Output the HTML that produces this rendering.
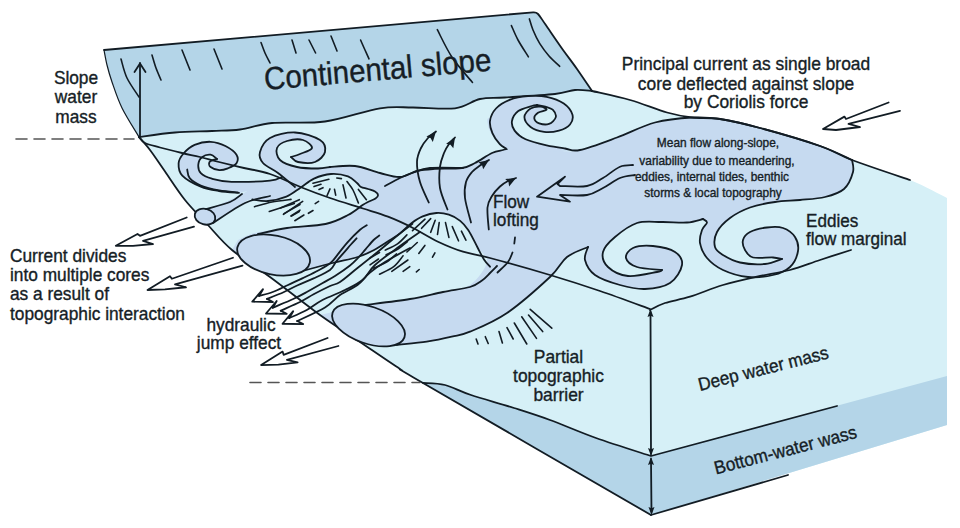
<!DOCTYPE html>
<html><head><meta charset="utf-8"><style>
html,body{margin:0;padding:0;background:#fff;width:960px;height:528px;overflow:hidden}
svg{display:block}
text{font-family:"Liberation Sans",sans-serif;fill:#161e26;stroke:#161e26;stroke-width:0.35px}
</style></head><body>
<svg width="960" height="528" viewBox="0 0 960 528">
<rect width="960" height="528" fill="#fff"/>
<defs><clipPath id="blk"><path d="M139.0,137.0 C145.0,136.2 162.8,133.5 175.0,132.5 C187.2,131.5 201.2,131.5 212.0,131.0 C222.8,130.5 230.0,130.8 240.0,129.5 C250.0,128.2 257.8,124.3 272.0,123.0 C286.2,121.7 307.0,124.0 325.0,121.5 C343.0,119.0 365.3,110.6 380.0,108.3 C394.7,106.0 400.5,107.5 413.0,107.5 C425.5,107.5 443.8,109.7 455.0,108.3 C466.2,106.9 471.7,100.8 480.0,99.0 C488.3,97.2 492.5,98.3 505.0,97.5 C517.5,96.7 543.3,95.2 555.0,94.0 C566.7,92.8 568.8,90.5 575.0,90.0 C581.2,89.5 589.2,90.8 592.0,91.0 C598.3,92.5 617.5,96.4 630.0,100.0 C642.5,103.6 656.7,109.6 667.0,112.5 C677.3,115.4 683.2,116.4 692.0,117.5 C700.8,118.6 708.7,117.2 720.0,119.0 C731.3,120.8 743.3,123.5 760.0,128.0 C776.7,132.5 804.7,140.7 820.0,146.0 C835.3,151.3 837.0,154.3 852.0,160.0 C867.0,165.7 894.2,173.7 910.0,180.0 C925.8,186.3 940.8,195.0 947.0,198.0 L947.0,425.0 L651.0,515.0 C613.0,493.0 464.8,407.3 423.0,383.0 C381.2,358.7 410.5,375.8 400.0,369.0 C389.5,362.2 373.3,351.0 360.0,342.0 C346.7,333.0 335.0,325.8 320.0,315.0 C305.0,304.2 284.7,287.8 270.0,277.0 C255.3,266.2 242.5,258.8 232.0,250.0 C221.5,241.2 214.8,232.3 207.0,224.0 C199.2,215.7 192.2,209.0 185.0,200.0 C177.8,191.0 169.8,178.3 164.0,170.0 C158.2,161.7 154.2,155.5 150.0,150.0 C145.8,144.5 140.8,139.2 139.0,137.0 Z"/></clipPath></defs>
<path d="M139.0,137.0 C145.0,136.2 162.8,133.5 175.0,132.5 C187.2,131.5 201.2,131.5 212.0,131.0 C222.8,130.5 230.0,130.8 240.0,129.5 C250.0,128.2 257.8,124.3 272.0,123.0 C286.2,121.7 307.0,124.0 325.0,121.5 C343.0,119.0 365.3,110.6 380.0,108.3 C394.7,106.0 400.5,107.5 413.0,107.5 C425.5,107.5 443.8,109.7 455.0,108.3 C466.2,106.9 471.7,100.8 480.0,99.0 C488.3,97.2 492.5,98.3 505.0,97.5 C517.5,96.7 543.3,95.2 555.0,94.0 C566.7,92.8 568.8,90.5 575.0,90.0 C581.2,89.5 589.2,90.8 592.0,91.0 C598.3,92.5 617.5,96.4 630.0,100.0 C642.5,103.6 656.7,109.6 667.0,112.5 C677.3,115.4 683.2,116.4 692.0,117.5 C700.8,118.6 708.7,117.2 720.0,119.0 C731.3,120.8 743.3,123.5 760.0,128.0 C776.7,132.5 804.7,140.7 820.0,146.0 C835.3,151.3 837.0,154.3 852.0,160.0 C867.0,165.7 894.2,173.7 910.0,180.0 C925.8,186.3 940.8,195.0 947.0,198.0 L947.0,425.0 L651.0,515.0 C613.0,493.0 464.8,407.3 423.0,383.0 C381.2,358.7 410.5,375.8 400.0,369.0 C389.5,362.2 373.3,351.0 360.0,342.0 C346.7,333.0 335.0,325.8 320.0,315.0 C305.0,304.2 284.7,287.8 270.0,277.0 C255.3,266.2 242.5,258.8 232.0,250.0 C221.5,241.2 214.8,232.3 207.0,224.0 C199.2,215.7 192.2,209.0 185.0,200.0 C177.8,191.0 169.8,178.3 164.0,170.0 C158.2,161.7 154.2,155.5 150.0,150.0 C145.8,144.5 140.8,139.2 139.0,137.0 Z" fill="#d6f0f7" fill-rule="nonzero"/>
<path d="M104.0,50.0 L533.0,12.3 C533.8,12.6 535.9,11.9 538.0,14.0 C540.1,16.1 541.4,18.7 545.5,24.6 C549.6,30.5 557.2,41.8 562.5,49.2 C567.8,56.6 572.1,62.0 577.0,69.0 C581.9,76.0 589.5,87.3 592.0,91.0 C589.2,90.8 581.2,89.5 575.0,90.0 C568.8,90.5 566.7,92.8 555.0,94.0 C543.3,95.2 517.5,96.7 505.0,97.5 C492.5,98.3 488.3,97.2 480.0,99.0 C471.7,100.8 466.2,106.9 455.0,108.3 C443.8,109.7 425.5,107.5 413.0,107.5 C400.5,107.5 394.7,106.0 380.0,108.3 C365.3,110.6 343.0,119.0 325.0,121.5 C307.0,124.0 286.2,121.7 272.0,123.0 C257.8,124.3 250.0,128.2 240.0,129.5 C230.0,130.8 222.8,130.5 212.0,131.0 C201.2,131.5 187.2,131.5 175.0,132.5 C162.8,133.5 145.0,136.2 139.0,137.0 C136.2,132.2 126.5,117.2 122.0,108.0 C117.5,98.8 114.5,89.2 112.0,82.0 C109.5,74.8 108.3,70.3 107.0,65.0 C105.7,59.7 104.5,52.5 104.0,50.0 Z" fill="#b4d5e8" fill-rule="nonzero"/>
<path d="M423.0,383.0 C426.7,383.3 437.0,383.0 445.0,385.0 C453.0,387.0 459.5,391.2 471.0,395.0 C482.5,398.8 500.8,403.8 514.0,408.0 C527.2,412.2 536.3,415.0 550.0,420.0 C563.7,425.0 579.2,432.0 596.0,438.0 C612.8,444.0 641.8,453.0 651.0,456.0 L947.0,376.0 L947.0,425.0 L651.0,515.0 L423.0,383.0 Z" fill="#b4d5e8" fill-rule="nonzero"/>
<g clip-path="url(#blk)">
<path d="M200.0,212.0 C203.8,210.5 216.0,206.0 223.0,203.0 C230.0,200.0 236.2,197.0 242.0,194.0 C247.8,191.0 253.3,187.2 258.0,185.0 C262.7,182.8 265.5,182.2 270.0,181.0 C274.5,179.8 280.5,179.7 285.0,178.0 C289.5,176.3 292.8,172.8 297.0,171.0 C301.2,169.2 304.5,168.2 310.0,167.5 C315.5,166.8 322.5,167.2 330.0,167.0 C337.5,166.8 346.7,165.0 355.0,166.0 C363.3,167.0 372.5,171.2 380.0,173.0 C387.5,174.8 393.8,177.3 400.0,177.0 C406.2,176.7 411.5,172.3 417.0,171.0 C422.5,169.7 425.5,169.5 433.0,169.0 C440.5,168.5 455.0,169.0 462.0,168.0 C469.0,167.0 470.0,165.5 475.0,163.0 C480.0,160.5 487.3,155.2 492.0,153.0 C496.7,150.8 500.5,150.7 503.0,150.0 C505.5,149.3 506.7,149.7 507.0,149.0 C507.3,148.3 506.5,147.2 505.0,146.0 C503.5,144.8 500.2,143.5 498.0,141.7 C495.8,139.9 493.7,137.8 492.0,135.0 C490.3,132.2 488.3,127.8 488.0,125.0 C487.7,122.2 485.8,117.5 490.0,118.0 C494.2,118.5 507.2,124.3 513.0,128.0 C518.8,131.7 520.2,136.9 525.0,140.0 C529.8,143.1 536.2,144.9 542.0,146.7 C547.8,148.5 553.7,150.2 560.0,150.8 C566.3,151.4 570.5,152.2 580.0,150.0 C589.5,147.8 604.5,142.1 617.0,137.5 C629.5,132.9 642.5,125.8 655.0,122.5 C667.5,119.2 681.2,118.1 692.0,117.5 C702.8,116.9 708.7,117.2 720.0,119.0 C731.3,120.8 743.3,123.5 760.0,128.0 C776.7,132.5 804.7,140.7 820.0,146.0 C835.3,151.3 846.7,157.7 852.0,160.0 C852.2,162.0 854.3,167.2 853.0,172.0 C851.7,176.8 848.7,184.8 844.0,189.0 C839.3,193.2 832.3,195.2 825.0,197.0 C817.7,198.8 808.3,199.2 800.0,200.0 C791.7,200.8 783.3,200.8 775.0,202.0 C766.7,203.2 757.5,204.8 750.0,207.5 C742.5,210.2 735.5,213.9 730.0,218.0 C724.5,222.1 719.5,227.2 717.0,232.0 C714.5,236.8 714.0,243.2 715.0,247.0 C716.0,250.8 718.8,252.4 723.0,255.0 C727.2,257.6 733.0,261.0 740.0,262.5 C747.0,264.0 758.0,264.6 765.0,264.0 C772.0,263.4 779.2,259.8 782.0,259.0 C780.5,258.8 777.8,257.8 773.0,257.5 C768.2,257.2 757.7,258.8 753.0,257.5 C748.3,256.2 746.7,252.9 745.0,250.0 C743.3,247.1 742.2,243.0 743.0,240.0 C743.8,237.0 746.0,234.1 750.0,232.0 C754.0,229.9 761.5,228.2 767.0,227.5 C772.5,226.8 778.3,226.4 783.0,228.0 C787.7,229.6 792.5,233.2 795.0,237.0 C797.5,240.8 798.8,246.0 798.0,251.0 C797.2,256.0 794.2,263.0 790.0,267.0 C785.8,271.0 780.0,273.3 773.0,275.0 C766.0,276.7 756.3,277.8 748.0,277.0 C739.7,276.2 729.8,273.2 723.0,270.0 C716.2,266.8 710.8,262.5 707.0,258.0 C703.2,253.5 700.8,247.7 700.0,243.0 C699.2,238.3 700.8,233.4 702.0,230.0 C703.2,226.6 706.8,224.3 707.0,222.5 C707.2,220.7 703.7,219.6 703.0,219.0 C700.3,219.6 693.8,222.0 687.0,222.5 C680.2,223.0 670.3,221.9 662.0,222.0 C653.7,222.1 644.8,220.5 637.0,223.0 C629.2,225.5 620.7,232.2 615.0,237.0 C609.3,241.8 604.2,247.0 603.0,252.0 C601.8,257.0 603.8,263.0 608.0,267.0 C612.2,271.0 619.8,275.2 628.0,276.0 C636.2,276.8 651.3,273.0 657.0,272.0 C662.7,271.0 661.2,270.3 662.0,270.0 C657.8,269.5 643.0,269.0 637.0,267.0 C631.0,265.0 626.7,261.2 626.0,258.0 C625.3,254.8 628.5,250.0 633.0,248.0 C637.5,246.0 646.0,245.3 653.0,246.0 C660.0,246.7 670.2,248.8 675.0,252.0 C679.8,255.2 682.8,259.8 682.0,265.0 C681.2,270.2 676.2,279.0 670.0,283.0 C663.8,287.0 653.3,288.7 645.0,289.0 C636.7,289.3 628.3,287.3 620.0,285.0 C611.7,282.7 600.8,279.2 595.0,275.0 C589.2,270.8 586.2,264.7 585.0,260.0 C583.8,255.3 587.5,249.2 588.0,247.0 C584.5,248.7 573.3,252.0 567.0,257.0 C560.7,262.0 560.0,267.7 550.0,277.0 C540.0,286.3 520.3,303.9 507.0,313.0 C493.7,322.1 479.2,327.8 470.0,331.7 C460.8,335.6 458.9,335.0 451.7,336.7 C444.5,338.4 435.9,340.3 426.7,341.7 C417.5,343.1 401.7,344.4 396.7,345.0 L360.0,342.0 L320.0,315.0 L270.0,277.0 L232.0,250.0 L207.0,224.0 L200.0,212.0 Z" fill="#c6daf0" fill-rule="nonzero"/>
<path d="M214.8,220.5 C218.0,218.6 228.0,212.6 234.0,209.0 C240.0,205.4 245.3,200.3 251.0,199.0 C256.7,197.7 262.1,201.4 268.0,201.0 C273.9,200.6 281.0,198.8 286.4,196.6 C291.8,194.4 295.9,190.7 300.5,187.7 C305.1,184.7 308.9,180.9 314.0,178.6 C319.1,176.3 325.3,174.4 331.0,174.0 C336.7,173.6 343.7,174.9 348.0,176.4 C352.3,177.9 354.8,181.2 357.0,183.0 C359.2,184.8 359.2,186.0 361.0,187.0 C362.8,188.0 365.7,188.2 368.0,189.0 C370.3,189.8 373.3,190.5 375.0,191.5 C376.7,192.5 377.9,193.8 378.0,195.0 C378.1,196.2 377.0,197.4 375.5,198.5 C374.0,199.6 371.1,200.4 369.0,201.5 C366.9,202.6 366.5,202.6 363.0,204.8 C359.5,207.1 354.2,211.8 348.0,215.0 C341.8,218.2 335.7,221.8 325.5,224.0 C315.3,226.2 298.8,226.5 287.0,228.0 C275.2,229.5 263.2,231.0 255.0,233.0 C246.8,235.0 240.8,238.8 238.0,240.0 L232.0,250.0 L207.0,224.0 L213.0,223.0 Z" fill="#d6f0f7" fill-rule="nonzero"/>
<path d="M240.0,268.0 C245.8,269.1 265.0,273.7 275.0,274.4 C285.0,275.1 290.4,273.9 300.0,272.0 C309.6,270.1 323.1,265.5 332.7,263.0 C342.3,260.5 350.9,259.1 357.7,257.0 C364.5,254.9 368.2,253.0 373.6,250.2 C379.0,247.4 385.6,242.8 390.0,240.0 C394.4,237.2 396.4,236.2 400.0,233.4 C403.6,230.6 407.6,226.0 411.4,223.2 C415.2,220.4 418.5,218.1 422.7,216.4 C426.9,214.7 432.0,213.3 436.4,213.0 C440.8,212.7 444.9,213.4 448.9,214.7 C452.9,216.0 457.0,218.3 460.2,220.9 C463.4,223.5 465.3,225.7 468.2,230.0 C471.1,234.3 474.2,241.7 477.3,247.0 C480.4,252.3 488.2,255.7 487.0,262.0 C485.8,268.3 477.3,280.1 470.0,285.0 C462.7,289.9 453.0,289.4 443.0,291.7 C433.0,294.0 423.0,296.8 410.0,299.0 C397.0,301.2 377.8,302.8 365.0,305.0 C352.2,307.2 338.3,310.8 333.0,312.0 L320.0,315.0 L270.0,277.0 L240.0,268.0 Z" fill="#d6f0f7" fill-rule="nonzero"/>
</g>
<path d="M295.0,187.0 C292.2,184.7 283.3,177.0 278.0,173.0 C272.7,169.0 266.0,166.5 263.0,163.0 C260.0,159.5 258.8,156.2 260.0,152.0 C261.2,147.8 264.2,141.2 270.0,138.0 C275.8,134.8 286.7,132.2 295.0,132.5 C303.3,132.8 315.0,136.8 320.0,140.0 C325.0,143.2 325.8,148.3 325.0,152.0 C324.2,155.7 319.5,160.3 315.0,162.0 C310.5,163.7 302.0,162.8 298.0,162.0 C294.0,161.2 292.2,157.8 291.0,157.0 C292.5,156.5 296.5,155.5 300.0,154.0 C303.5,152.5 311.5,150.3 312.0,148.0 C312.5,145.7 307.2,141.2 303.0,140.0 C298.8,138.8 291.3,139.7 287.0,141.0 C282.7,142.3 278.2,144.8 277.0,148.0 C275.8,151.2 276.7,156.8 280.0,160.0 C283.3,163.2 290.7,165.6 297.0,167.0 C303.3,168.4 312.5,168.5 318.0,168.5 C323.5,168.5 328.0,167.2 330.0,167.0 L310.0,178.0 L295.0,187.0 Z" fill="#c6daf0" fill-rule="nonzero"/>
<path d="M295.0,187.0 C292.2,184.7 283.3,177.0 278.0,173.0 C272.7,169.0 266.0,166.5 263.0,163.0 C260.0,159.5 258.8,156.2 260.0,152.0 C261.2,147.8 264.2,141.2 270.0,138.0 C275.8,134.8 286.7,132.2 295.0,132.5 C303.3,132.8 315.0,136.8 320.0,140.0 C325.0,143.2 325.8,148.3 325.0,152.0 C324.2,155.7 319.5,160.3 315.0,162.0 C310.5,163.7 302.0,162.8 298.0,162.0 C294.0,161.2 292.2,157.8 291.0,157.0" fill="none" stroke="#121c24" stroke-width="1.8" stroke-linecap="round" stroke-linejoin="round"/>
<path d="M291.0,157.0 C292.5,156.5 296.5,155.5 300.0,154.0 C303.5,152.5 311.5,150.3 312.0,148.0 C312.5,145.7 307.2,141.2 303.0,140.0 C298.8,138.8 291.3,139.7 287.0,141.0 C282.7,142.3 278.2,144.8 277.0,148.0 C275.8,151.2 276.7,156.8 280.0,160.0 C283.3,163.2 290.7,165.6 297.0,167.0 C303.3,168.4 312.5,168.5 318.0,168.5 C323.5,168.5 328.0,167.2 330.0,167.0" fill="none" stroke="#121c24" stroke-width="1.8" stroke-linecap="round" stroke-linejoin="round"/>
<path d="M239.0,192.9 C235.7,192.6 225.4,192.0 219.0,191.0 C212.6,190.0 206.9,189.3 200.8,186.7 C194.7,184.1 186.0,179.5 182.3,175.6 C178.6,171.7 178.4,167.0 178.6,163.3 C178.8,159.6 180.8,156.6 183.5,153.5 C186.2,150.4 190.1,146.8 194.6,144.9 C199.1,143.0 205.5,141.6 210.6,141.8 C215.7,142.0 221.1,143.8 225.4,146.0 C229.7,148.2 234.7,151.8 236.5,154.7 C238.3,157.6 237.9,161.0 236.5,163.3 C235.1,165.6 230.8,167.2 227.9,168.3 C225.0,169.4 222.2,170.3 219.3,170.1 C216.4,169.9 212.2,168.3 210.6,167.0 C208.9,165.7 208.8,163.3 209.4,162.1 C210.0,160.9 213.0,160.1 214.3,159.6 C215.6,159.1 216.6,159.1 217.0,159.0 C215.9,158.3 213.1,155.0 210.6,154.7 C208.1,154.4 204.1,155.5 202.0,157.2 C199.9,158.8 198.5,161.9 198.3,164.6 C198.1,167.3 198.5,170.8 200.8,173.2 C203.1,175.5 206.8,177.3 211.9,178.7 C217.0,180.1 221.9,181.5 231.6,181.8 C241.3,182.1 261.6,181.4 270.0,180.6 C278.4,179.8 280.0,177.6 282.0,177.0 L260.0,188.0 L239.0,192.9 Z" fill="#c6daf0" fill-rule="nonzero"/>
<path d="M239.0,192.9 C235.7,192.6 225.4,192.0 219.0,191.0 C212.6,190.0 206.9,189.3 200.8,186.7 C194.7,184.1 186.0,179.5 182.3,175.6 C178.6,171.7 178.4,167.0 178.6,163.3 C178.8,159.6 180.8,156.6 183.5,153.5 C186.2,150.4 190.1,146.8 194.6,144.9 C199.1,143.0 205.5,141.6 210.6,141.8 C215.7,142.0 221.1,143.8 225.4,146.0 C229.7,148.2 234.7,151.8 236.5,154.7 C238.3,157.6 237.9,161.0 236.5,163.3 C235.1,165.6 230.8,167.2 227.9,168.3 C225.0,169.4 222.2,170.3 219.3,170.1 C216.4,169.9 212.2,168.3 210.6,167.0 C208.9,165.7 208.8,163.3 209.4,162.1 C210.0,160.9 213.0,160.1 214.3,159.6 C215.6,159.1 216.6,159.1 217.0,159.0" fill="none" stroke="#121c24" stroke-width="1.8" stroke-linecap="round" stroke-linejoin="round"/>
<path d="M217.0,159.0 C215.9,158.3 213.1,155.0 210.6,154.7 C208.1,154.4 204.1,155.5 202.0,157.2 C199.9,158.8 198.5,161.9 198.3,164.6 C198.1,167.3 198.5,170.8 200.8,173.2 C203.1,175.5 206.8,177.3 211.9,178.7 C217.0,180.1 221.9,181.5 231.6,181.8 C241.3,182.1 261.6,181.4 270.0,180.6 C278.4,179.8 280.0,177.6 282.0,177.0" fill="none" stroke="#121c24" stroke-width="1.8" stroke-linecap="round" stroke-linejoin="round"/>
<path d="M187.2,169.5 C187.6,170.9 187.4,175.4 189.7,178.1 C192.0,180.8 195.9,183.4 200.8,185.5 C205.7,187.6 213.2,189.3 219.3,190.4 C225.5,191.5 234.6,192.0 237.7,192.3" fill="none" stroke="#121c24" stroke-width="1.8" stroke-linecap="round" stroke-linejoin="round"/>
<path d="M139.0,137.0 C140.8,139.2 145.8,144.5 150.0,150.0 C154.2,155.5 158.2,161.7 164.0,170.0 C169.8,178.3 177.8,191.0 185.0,200.0 C192.2,209.0 199.2,215.7 207.0,224.0 C214.8,232.3 221.5,241.2 232.0,250.0 C242.5,258.8 255.3,266.2 270.0,277.0 C284.7,287.8 305.0,304.2 320.0,315.0 C335.0,325.8 346.7,333.0 360.0,342.0 C373.3,351.0 389.5,362.2 400.0,369.0 C410.5,375.8 381.2,358.7 423.0,383.0 C464.8,407.3 613.0,493.0 651.0,515.0" fill="none" stroke="#121c24" stroke-width="1.8" stroke-linecap="round" stroke-linejoin="round"/>
<path d="M139.0,137.0 C145.0,136.2 162.8,133.5 175.0,132.5 C187.2,131.5 201.2,131.5 212.0,131.0 C222.8,130.5 230.0,130.8 240.0,129.5 C250.0,128.2 257.8,124.3 272.0,123.0 C286.2,121.7 307.0,124.0 325.0,121.5 C343.0,119.0 365.3,110.6 380.0,108.3 C394.7,106.0 400.5,107.5 413.0,107.5 C425.5,107.5 443.8,109.7 455.0,108.3 C466.2,106.9 471.7,100.8 480.0,99.0 C488.3,97.2 492.5,98.3 505.0,97.5 C517.5,96.7 543.3,95.2 555.0,94.0 C566.7,92.8 568.8,90.5 575.0,90.0 C581.2,89.5 589.2,90.8 592.0,91.0" fill="none" stroke="#121c24" stroke-width="1.8" stroke-linecap="round" stroke-linejoin="round"/>
<path d="M592.0,91.0 C598.3,92.5 617.5,96.4 630.0,100.0 C642.5,103.6 656.7,109.6 667.0,112.5 C677.3,115.4 683.2,116.4 692.0,117.5 C700.8,118.6 708.7,117.2 720.0,119.0 C731.3,120.8 743.3,123.5 760.0,128.0 C776.7,132.5 804.7,140.7 820.0,146.0 C835.3,151.3 837.0,154.3 852.0,160.0 C867.0,165.7 900.3,176.7 910.0,180.0" fill="none" stroke="#121c24" stroke-width="1.8" stroke-linecap="round" stroke-linejoin="round"/>
<path d="M104.0,50.0 L533.0,12.3 C533.8,12.6 535.9,11.9 538.0,14.0 C540.1,16.1 541.4,18.7 545.5,24.6 C549.6,30.5 557.2,41.8 562.5,49.2 C567.8,56.6 572.1,62.0 577.0,69.0 C581.9,76.0 589.5,87.3 592.0,91.0" fill="none" stroke="#121c24" stroke-width="1.8" stroke-linecap="round" stroke-linejoin="round"/>
<path d="M423.0,383.0 C426.7,383.3 437.0,383.0 445.0,385.0 C453.0,387.0 459.5,391.2 471.0,395.0 C482.5,398.8 500.8,403.8 514.0,408.0 C527.2,412.2 536.3,415.0 550.0,420.0 C563.7,425.0 579.2,432.0 596.0,438.0 C612.8,444.0 641.8,453.0 651.0,456.0 L837,406" fill="none" stroke="#121c24" stroke-width="1.8" stroke-linecap="round" stroke-linejoin="round"/>
<path d="M651,515 L788,475" fill="none" stroke="#121c24" stroke-width="1.8" stroke-linecap="round" stroke-linejoin="round"/>
<path d="M650.0,310.0 C652.5,308.8 658.3,305.2 665.0,303.0 C671.7,300.8 680.3,299.7 690.0,296.7 C699.7,293.7 711.8,288.3 723.0,285.0 C734.2,281.7 745.8,279.2 757.0,276.7 C768.2,274.2 779.5,272.8 790.0,270.0 C800.5,267.2 809.8,263.3 820.0,260.0 C830.2,256.7 845.8,251.7 851.0,250.0" fill="none" stroke="#121c24" stroke-width="1.8" stroke-linecap="round" stroke-linejoin="round"/>
<path d="M650.5,312 L651,454" fill="none" stroke="#121c24" stroke-width="1.8" stroke-linecap="round" stroke-linejoin="round"/>
<path d="M650.5,309.0 L653.5,317.0 L650.5,315.8 L647.5,317.0 Z" fill="#121c24"/>
<path d="M651.0,456.0 L648.0,448.0 L651.0,449.2 L654.0,448.0 Z" fill="#121c24"/>
<path d="M651,459 L651.5,512" fill="none" stroke="#121c24" stroke-width="1.8" stroke-linecap="round" stroke-linejoin="round"/>
<path d="M651.0,457.0 L654.0,465.0 L651.0,463.8 L648.0,465.0 Z" fill="#121c24"/>
<path d="M651.5,515.0 L648.5,507.0 L651.5,508.2 L654.5,507.0 Z" fill="#121c24"/>
<path d="M140,137 L140,63" fill="none" stroke="#121c24" stroke-width="1.8" stroke-linecap="round" stroke-linejoin="round"/>
<path d="M134.5,72 L140,63.5 L145.5,72" fill="none" stroke="#121c24" stroke-width="1.8" stroke-linecap="round" stroke-linejoin="round"/>
<path d="M104.0,50.0 C104.5,52.5 105.7,59.7 107.0,65.0 C108.3,70.3 109.5,74.8 112.0,82.0 C114.5,89.2 117.5,98.8 122.0,108.0 C126.5,117.2 136.2,132.2 139.0,137.0" fill="none" stroke="#121c24" stroke-width="1.2" stroke-linecap="round" stroke-linejoin="round"/>
<path d="M330.0,167.0 C334.2,166.8 346.7,165.0 355.0,166.0 C363.3,167.0 372.5,171.2 380.0,173.0 C387.5,174.8 393.8,177.3 400.0,177.0 C406.2,176.7 411.5,172.3 417.0,171.0 C422.5,169.7 425.5,169.5 433.0,169.0 C440.5,168.5 455.0,169.0 462.0,168.0 C469.0,167.0 470.0,165.5 475.0,163.0 C480.0,160.5 487.3,155.2 492.0,153.0 C496.7,150.8 500.5,150.7 503.0,150.0 C505.5,149.3 506.3,149.2 507.0,149.0" fill="none" stroke="#121c24" stroke-width="1.8" stroke-linecap="round" stroke-linejoin="round"/>
<path d="M852.0,160.0 C852.2,162.0 854.3,167.2 853.0,172.0 C851.7,176.8 848.7,184.8 844.0,189.0 C839.3,193.2 832.3,195.2 825.0,197.0 C817.7,198.8 808.3,199.2 800.0,200.0 C791.7,200.8 783.3,200.8 775.0,202.0 C766.7,203.2 757.5,204.8 750.0,207.5 C742.5,210.2 735.5,213.9 730.0,218.0 C724.5,222.1 719.5,227.2 717.0,232.0 C714.5,236.8 714.0,243.2 715.0,247.0 C716.0,250.8 718.8,252.4 723.0,255.0 C727.2,257.6 733.0,261.0 740.0,262.5 C747.0,264.0 758.0,264.6 765.0,264.0 C772.0,263.4 779.2,259.8 782.0,259.0" fill="none" stroke="#121c24" stroke-width="1.8" stroke-linecap="round" stroke-linejoin="round"/>
<path d="M782.0,259.0 C780.5,258.8 777.8,257.8 773.0,257.5 C768.2,257.2 757.7,258.8 753.0,257.5 C748.3,256.2 746.7,252.9 745.0,250.0 C743.3,247.1 742.2,243.0 743.0,240.0 C743.8,237.0 746.0,234.1 750.0,232.0 C754.0,229.9 761.5,228.2 767.0,227.5 C772.5,226.8 778.3,226.4 783.0,228.0 C787.7,229.6 792.5,233.2 795.0,237.0 C797.5,240.8 798.8,246.0 798.0,251.0 C797.2,256.0 794.2,263.0 790.0,267.0 C785.8,271.0 780.0,273.3 773.0,275.0 C766.0,276.7 756.3,277.8 748.0,277.0 C739.7,276.2 729.8,273.2 723.0,270.0 C716.2,266.8 710.8,262.5 707.0,258.0 C703.2,253.5 700.8,247.7 700.0,243.0 C699.2,238.3 700.8,233.4 702.0,230.0 C703.2,226.6 706.8,224.3 707.0,222.5 C707.2,220.7 703.7,219.6 703.0,219.0" fill="none" stroke="#121c24" stroke-width="1.8" stroke-linecap="round" stroke-linejoin="round"/>
<path d="M703.0,219.0 C700.3,219.6 693.8,222.0 687.0,222.5 C680.2,223.0 670.3,221.9 662.0,222.0 C653.7,222.1 644.8,220.5 637.0,223.0 C629.2,225.5 620.7,232.2 615.0,237.0 C609.3,241.8 604.2,247.0 603.0,252.0 C601.8,257.0 603.8,263.0 608.0,267.0 C612.2,271.0 619.8,275.2 628.0,276.0 C636.2,276.8 651.3,273.0 657.0,272.0 C662.7,271.0 661.2,270.3 662.0,270.0" fill="none" stroke="#121c24" stroke-width="1.8" stroke-linecap="round" stroke-linejoin="round"/>
<path d="M662.0,270.0 C657.8,269.5 643.0,269.0 637.0,267.0 C631.0,265.0 626.7,261.2 626.0,258.0 C625.3,254.8 628.5,250.0 633.0,248.0 C637.5,246.0 646.0,245.3 653.0,246.0 C660.0,246.7 670.2,248.8 675.0,252.0 C679.8,255.2 682.8,259.8 682.0,265.0 C681.2,270.2 676.2,279.0 670.0,283.0 C663.8,287.0 653.3,288.7 645.0,289.0 C636.7,289.3 628.3,287.3 620.0,285.0 C611.7,282.7 600.8,279.2 595.0,275.0 C589.2,270.8 586.2,264.7 585.0,260.0 C583.8,255.3 587.5,249.2 588.0,247.0" fill="none" stroke="#121c24" stroke-width="1.8" stroke-linecap="round" stroke-linejoin="round"/>
<path d="M588.0,247.0 C584.5,248.7 573.3,252.0 567.0,257.0 C560.7,262.0 560.0,267.7 550.0,277.0 C540.0,286.3 520.3,303.9 507.0,313.0 C493.7,322.1 479.2,327.8 470.0,331.7 C460.8,335.6 458.9,335.0 451.7,336.7 C444.5,338.4 435.9,340.3 426.7,341.7 C417.5,343.1 401.7,344.4 396.7,345.0" fill="none" stroke="#121c24" stroke-width="1.8" stroke-linecap="round" stroke-linejoin="round"/>
<path d="M139.0,137.0 C140.0,138.0 141.5,141.2 145.0,143.0 C148.5,144.8 153.8,145.8 160.0,147.5 C166.2,149.2 175.3,151.4 182.0,153.0 C188.7,154.6 193.8,155.5 200.0,157.0 C206.2,158.5 211.7,160.2 219.0,162.0 C226.3,163.8 235.5,166.0 244.0,168.0 C252.5,170.0 260.2,170.7 270.0,174.0 C279.8,177.3 293.0,184.0 303.0,188.0 C313.0,192.0 320.0,194.6 330.0,198.0 C340.0,201.4 353.3,205.4 363.0,208.5 C372.7,211.6 379.7,213.4 388.0,216.7 C396.3,219.9 404.7,223.8 413.0,228.0 C421.3,232.2 429.7,237.8 438.0,241.7 C446.3,245.6 454.3,249.0 463.0,251.7 C471.7,254.4 475.5,254.1 490.0,258.0 C504.5,261.9 531.7,269.5 550.0,275.0 C568.3,280.5 583.3,285.3 600.0,291.0 C616.7,296.7 641.7,306.0 650.0,309.0" fill="none" stroke="#121c24" stroke-width="1.8" stroke-linecap="round" stroke-linejoin="round"/>
<path d="M252.3,199.4 C254.9,199.7 262.3,201.5 268.0,201.0 C273.7,200.5 281.0,198.8 286.4,196.6 C291.8,194.4 295.9,190.7 300.5,187.7 C305.1,184.7 308.9,180.9 314.0,178.6 C319.1,176.3 325.3,174.4 331.0,174.0 C336.7,173.6 343.7,174.9 348.0,176.4 C352.3,177.9 354.8,181.2 357.0,183.0 C359.2,184.8 359.2,186.0 361.0,187.0 C362.8,188.0 365.7,188.2 368.0,189.0 C370.3,189.8 373.3,190.5 375.0,191.5 C376.7,192.5 377.9,193.8 378.0,195.0 C378.1,196.2 377.0,197.4 375.5,198.5 C374.0,199.6 371.1,200.4 369.0,201.5 C366.9,202.6 366.5,202.6 363.0,204.8 C359.5,207.1 354.2,211.8 348.0,215.0 C341.8,218.2 335.7,221.8 325.5,224.0 C315.3,226.2 298.2,226.3 287.0,228.0 C275.8,229.7 262.8,233.0 258.0,234.0" fill="none" stroke="#121c24" stroke-width="1.8" stroke-linecap="round" stroke-linejoin="round"/>
<path d="M300.0,271.7 C305.4,270.2 323.1,265.4 332.7,263.0 C342.3,260.6 350.9,259.1 357.7,257.0 C364.5,254.9 368.2,253.0 373.6,250.2 C379.0,247.4 385.6,242.8 390.0,240.0 C394.4,237.2 396.4,236.2 400.0,233.4 C403.6,230.6 407.6,226.0 411.4,223.2 C415.2,220.4 418.5,218.1 422.7,216.4 C426.9,214.7 432.0,213.3 436.4,213.0 C440.8,212.7 444.9,213.4 448.9,214.7 C452.9,216.0 457.0,218.3 460.2,220.9 C463.4,223.5 465.3,225.7 468.2,230.0 C471.1,234.3 474.7,242.1 477.3,247.0 C479.9,251.9 481.9,256.2 484.0,259.5 C486.1,262.8 489.0,265.5 490.0,266.7" fill="none" stroke="#121c24" stroke-width="1.8" stroke-linecap="round" stroke-linejoin="round"/>
<path d="M365.0,305.0 C372.5,304.0 397.0,301.2 410.0,299.0 C423.0,296.8 433.0,294.0 443.0,292.0 C453.0,290.0 463.5,288.9 470.0,287.0 C476.5,285.1 478.7,282.8 482.0,280.5 C485.3,278.2 487.5,275.4 490.0,273.0 C492.5,270.6 495.8,267.2 497.0,266.0" fill="none" stroke="#121c24" stroke-width="1.8" stroke-linecap="round" stroke-linejoin="round"/>
<ellipse cx="205" cy="216.7" rx="10.5" ry="7.8" transform="rotate(15 205 216.7)" fill="#c6daf0" stroke="#121c24" stroke-width="1.8"/>
<ellipse cx="273.6" cy="255" rx="37" ry="19.5" transform="rotate(12 273.6 255)" fill="#c6daf0" stroke="#121c24" stroke-width="1.8"/>
<ellipse cx="368.5" cy="325" rx="38" ry="18.5" transform="rotate(19 368.5 325)" fill="#c6daf0" stroke="#121c24" stroke-width="1.8"/>
<path d="M206.0,209.0 C210.0,207.8 224.0,204.5 230.0,202.0 C236.0,199.5 240.0,195.3 242.0,194.0" fill="none" stroke="#121c24" stroke-width="1.8" stroke-linecap="round" stroke-linejoin="round"/>
<path d="M213.0,223.0 C218.3,219.7 235.5,207.5 245.0,203.0 C254.5,198.5 265.8,197.2 270.0,196.0" fill="none" stroke="#121c24" stroke-width="1.8" stroke-linecap="round" stroke-linejoin="round"/>
<path d="M261.0,42.5 C261.7,44.2 263.5,49.6 265.0,53.0 C266.5,56.4 269.2,61.3 270.0,63.0" fill="none" stroke="#121c24" stroke-width="1.6" stroke-linecap="round" stroke-linejoin="round"/>
<path d="M121.0,59.0 C122.0,62.2 124.0,71.7 127.0,78.0 C130.0,84.3 137.0,93.8 139.0,97.0" fill="none" stroke="#121c24" stroke-width="1.6" stroke-linecap="round" stroke-linejoin="round"/>
<path d="M152.0,55.0 C152.7,57.2 154.5,63.8 156.0,68.0 C157.5,72.2 160.2,78.0 161.0,80.0" fill="none" stroke="#121c24" stroke-width="1.6" stroke-linecap="round" stroke-linejoin="round"/>
<path d="M182.0,50.0 C182.7,51.7 184.7,56.7 186.0,60.0 C187.3,63.3 189.3,68.3 190.0,70.0" fill="none" stroke="#121c24" stroke-width="1.6" stroke-linecap="round" stroke-linejoin="round"/>
<path d="M214.0,49.0 C214.7,50.7 216.7,55.7 218.0,59.0 C219.3,62.3 221.3,67.3 222.0,69.0" fill="none" stroke="#121c24" stroke-width="1.6" stroke-linecap="round" stroke-linejoin="round"/>
<path d="M292.0,40.0 L296.0,53.0" fill="none" stroke="#121c24" stroke-width="1.6" stroke-linecap="round" stroke-linejoin="round"/>
<path d="M309.0,40.0 L315.6,53.0" fill="none" stroke="#121c24" stroke-width="1.6" stroke-linecap="round" stroke-linejoin="round"/>
<path d="M331.0,36.0 L337.0,51.0" fill="none" stroke="#121c24" stroke-width="1.6" stroke-linecap="round" stroke-linejoin="round"/>
<path d="M360.6,40.0 C361.3,41.7 363.6,46.9 365.0,50.0 C366.4,53.1 368.3,57.3 369.0,58.8" fill="none" stroke="#121c24" stroke-width="1.6" stroke-linecap="round" stroke-linejoin="round"/>
<path d="M437.3,29.7 C439.8,34.3 446.3,48.7 452.2,57.5 C458.1,66.3 469.1,78.3 472.5,82.5" fill="none" stroke="#121c24" stroke-width="1.6" stroke-linecap="round" stroke-linejoin="round"/>
<path d="M511.4,25.6 C512.5,28.0 515.2,34.8 518.0,40.0 C520.8,45.2 526.7,54.0 528.4,56.8" fill="none" stroke="#121c24" stroke-width="1.6" stroke-linecap="round" stroke-linejoin="round"/>
<path d="M529.4,18.9 C530.0,20.8 531.3,25.9 533.0,30.0 C534.7,34.1 537.1,39.3 539.8,43.6 C542.5,47.9 545.7,52.2 549.0,56.0 C552.3,59.8 557.9,64.6 559.7,66.3" fill="none" stroke="#121c24" stroke-width="1.6" stroke-linecap="round" stroke-linejoin="round"/>
<path d="M16,139 L134,139" fill="none" stroke="#555" stroke-width="1.6" stroke-linecap="round" stroke-linejoin="round" stroke-dasharray="11,7" stroke-linecap="butt"/>
<path d="M250,382.5 L420,382.5" fill="none" stroke="#555" stroke-width="1.6" stroke-linecap="round" stroke-linejoin="round" stroke-dasharray="11,7" stroke-linecap="butt"/>
<path d="M506.0,148.5 C505.0,147.8 502.1,146.8 499.8,144.2 C497.5,141.6 494.0,137.0 492.4,133.1 C490.8,129.2 489.4,124.9 490.0,120.8 C490.6,116.7 492.7,112.0 496.0,108.5 C499.3,105.0 504.3,102.0 509.6,99.9 C514.9,97.9 521.8,96.7 528.0,96.2 C534.2,95.7 540.6,95.6 546.6,96.8 C552.6,98.0 559.5,100.5 563.8,103.5 C568.1,106.5 571.4,111.1 572.4,114.6 C573.4,118.1 572.2,121.8 570.0,124.5 C567.8,127.2 563.2,129.4 558.9,130.6 C554.6,131.8 548.8,132.5 544.1,131.9 C539.4,131.3 533.9,129.5 530.6,127.0 C527.3,124.5 524.4,120.2 524.4,117.1 C524.4,114.0 527.9,110.2 530.6,108.5 C533.3,106.8 537.7,106.4 540.4,106.6 C543.1,106.8 547.0,108.7 546.6,109.7 C546.2,110.7 540.0,111.4 538.0,112.8 C536.0,114.2 534.1,116.5 534.3,118.3 C534.5,120.0 536.8,122.4 539.2,123.3 C541.7,124.2 546.2,124.9 549.0,123.9 C551.8,122.9 555.2,119.5 555.8,117.1 C556.4,114.7 554.5,111.5 552.7,109.7 C551.0,108.0 547.9,107.4 545.3,106.6 C542.7,105.8 538.4,105.3 537.0,105.0 C536.1,105.2 534.9,105.0 531.8,106.0 C528.7,107.0 521.6,108.5 518.3,111.0 C515.0,113.5 512.6,117.5 512.0,120.8 C511.4,124.1 512.3,127.5 514.6,130.6 C516.9,133.7 520.3,136.8 525.6,139.3 C530.9,141.8 540.0,143.9 546.6,145.4 C553.2,146.9 559.4,147.7 565.0,148.5 C570.6,149.3 577.5,149.8 580.0,150.0 L540.0,152.0 L506.0,148.5 Z" fill="#c6daf0" fill-rule="nonzero"/>
<path d="M506.0,148.5 C505.0,147.8 502.1,146.8 499.8,144.2 C497.5,141.6 494.0,137.0 492.4,133.1 C490.8,129.2 489.4,124.9 490.0,120.8 C490.6,116.7 492.7,112.0 496.0,108.5 C499.3,105.0 504.3,102.0 509.6,99.9 C514.9,97.9 521.8,96.7 528.0,96.2 C534.2,95.7 540.6,95.6 546.6,96.8 C552.6,98.0 559.5,100.5 563.8,103.5 C568.1,106.5 571.4,111.1 572.4,114.6 C573.4,118.1 572.2,121.8 570.0,124.5 C567.8,127.2 563.2,129.4 558.9,130.6 C554.6,131.8 548.8,132.5 544.1,131.9 C539.4,131.3 533.9,129.5 530.6,127.0 C527.3,124.5 524.4,120.2 524.4,117.1 C524.4,114.0 527.9,110.2 530.6,108.5 C533.3,106.8 537.7,106.4 540.4,106.6 C543.1,106.8 547.0,108.7 546.6,109.7 C546.2,110.7 540.0,111.4 538.0,112.8 C536.0,114.2 534.1,116.5 534.3,118.3 C534.5,120.0 536.8,122.4 539.2,123.3 C541.7,124.2 546.2,124.9 549.0,123.9 C551.8,122.9 555.2,119.5 555.8,117.1 C556.4,114.7 554.5,111.5 552.7,109.7 C551.0,108.0 547.9,107.4 545.3,106.6 C542.7,105.8 538.4,105.3 537.0,105.0" fill="none" stroke="#121c24" stroke-width="1.8" stroke-linecap="round" stroke-linejoin="round"/>
<path d="M537.0,105.0 C536.1,105.2 534.9,105.0 531.8,106.0 C528.7,107.0 521.6,108.5 518.3,111.0 C515.0,113.5 512.6,117.5 512.0,120.8 C511.4,124.1 512.3,127.5 514.6,130.6 C516.9,133.7 520.3,136.8 525.6,139.3 C530.9,141.8 540.0,143.9 546.6,145.4 C553.2,146.9 559.4,147.7 565.0,148.5 C570.6,149.3 571.3,151.8 580.0,150.0 C588.7,148.2 604.5,142.1 617.0,137.5 C629.5,132.9 642.5,125.8 655.0,122.5 C667.5,119.2 681.2,118.1 692.0,117.5 C702.8,116.9 708.7,117.2 720.0,119.0 C731.3,120.8 743.3,123.5 760.0,128.0 C776.7,132.5 804.7,140.7 820.0,146.0 C835.3,151.3 846.7,157.7 852.0,160.0" fill="none" stroke="#121c24" stroke-width="1.8" stroke-linecap="round" stroke-linejoin="round"/>
<path d="M385.0,186.0 C387.5,184.7 395.3,180.2 400.0,178.0 C404.7,175.8 408.0,174.2 413.0,172.5 C418.0,170.8 421.7,168.8 430.0,168.0 C438.3,167.2 457.5,168.0 463.0,168.0" fill="none" stroke="#121c24" stroke-width="1.8" stroke-linecap="round" stroke-linejoin="round"/>
<path d="M428.8,202.5 C427.3,199.1 422.0,188.8 420.0,182.0 C418.0,175.2 416.8,167.4 417.0,161.7 C417.2,156.0 419.2,151.9 421.0,148.0 C422.8,144.1 425.5,140.8 428.0,138.0 C430.5,135.2 434.7,132.6 436.0,131.5" fill="none" stroke="#121c24" stroke-width="1.8" stroke-linecap="round" stroke-linejoin="round"/>
<path d="M436.0,131.5 L432.8,141.9 L430.5,138.0 L426.4,136.5 Z" fill="#121c24"/>
<path d="M447.5,209.5 C446.2,205.9 441.2,195.1 440.0,188.0 C438.8,180.9 439.3,172.5 440.0,166.7 C440.7,160.9 442.5,156.8 444.0,153.0 C445.5,149.2 447.2,146.6 449.0,144.0 C450.8,141.4 454.0,138.6 455.0,137.5" fill="none" stroke="#121c24" stroke-width="1.8" stroke-linecap="round" stroke-linejoin="round"/>
<path d="M455.0,137.5 L453.3,148.2 L450.5,144.7 L446.1,143.8 Z" fill="#121c24"/>
<path d="M471.0,222.5 C470.0,218.4 465.8,204.8 465.0,198.0 C464.2,191.2 464.8,186.3 466.0,182.0 C467.2,177.7 469.7,174.8 472.0,172.0 C474.3,169.2 477.2,167.5 480.0,165.5 C482.8,163.5 487.5,160.9 489.0,160.0" fill="none" stroke="#121c24" stroke-width="1.8" stroke-linecap="round" stroke-linejoin="round"/>
<path d="M489.0,160.0 L483.2,169.2 L482.0,164.9 L478.4,162.3 Z" fill="#121c24"/>
<path d="M488.8,229.5 C488.5,225.8 487.0,213.1 487.5,207.5 C488.0,201.9 489.9,199.5 492.0,196.0 C494.1,192.5 497.3,189.0 500.0,186.5 C502.7,184.0 505.3,182.4 508.0,181.0 C510.7,179.6 514.7,178.5 516.0,178.0" fill="none" stroke="#121c24" stroke-width="1.8" stroke-linecap="round" stroke-linejoin="round"/>
<path d="M516.0,178.0 L509.1,186.4 L508.5,182.0 L505.2,179.0 Z" fill="#121c24"/>
<path d="M515,237.5 L514.3,243.5" fill="none" stroke="#121c24" stroke-width="1.8" stroke-linecap="round" stroke-linejoin="round"/>
<path d="M512.5,252.5 C511.8,254.1 510.5,258.7 508.0,262.0 C505.5,265.3 499.2,270.8 497.5,272.5" fill="none" stroke="#121c24" stroke-width="1.8" stroke-linecap="round" stroke-linejoin="round"/>
<path d="M633.0,165.0 C630.8,165.3 625.0,164.5 620.0,166.7 C615.0,168.9 608.5,174.8 603.0,178.0 C597.5,181.2 594.2,184.7 587.0,186.0 C579.8,187.3 564.5,186.0 560.0,186.0 L557.5,184 L565,176.7 L537,196.7 L570,201.7 L560,195 C564.5,195.0 579.8,196.2 587.0,195.0 C594.2,193.8 597.5,190.8 603.0,188.0 C608.5,185.2 614.7,180.2 620.0,178.0 C625.3,175.8 632.5,175.5 635.0,175.0" fill="none" stroke="#121c24" stroke-width="1.8" stroke-linecap="round" stroke-linejoin="round"/>
<path d="M888.6,102.5 L846,119 L844.4,116.6 L823,129 L836,130 L860,127 L848.5,123.9 L900,110.8" fill="none" stroke="#121c24" stroke-width="1.8" stroke-linecap="round" stroke-linejoin="round"/>
<path d="M186.7,217.5 L140,235.8 L137.5,234 L115.8,245.8 L133,245.8 L153,244 L143,240.8 L194,226.7" fill="none" stroke="#121c24" stroke-width="1.8" stroke-linecap="round" stroke-linejoin="round"/>
<path d="M233,257.75 L171.9,278.75 L170,276.25 L147.5,290 L165,289.4 L186,287.25 L175,284.4 L242.5,265.6" fill="none" stroke="#121c24" stroke-width="1.8" stroke-linecap="round" stroke-linejoin="round"/>
<path d="M327.6,338 L283.6,354.8 L282.6,351.6 L261.1,365.1 L278.4,364.7 L297.6,362.3 L286.9,359.8 L338.4,346" fill="none" stroke="#121c24" stroke-width="1.8" stroke-linecap="round" stroke-linejoin="round"/>
<path d="M366.8,225.2 C365.7,226.0 363.2,227.0 360.0,229.8 C356.8,232.7 351.1,238.3 347.5,242.3 C343.9,246.3 341.2,250.2 338.4,253.6 C335.6,257.1 333.9,260.2 330.5,263.0 C327.1,265.8 322.9,267.9 318.2,270.5 C313.5,273.1 307.4,275.9 302.3,278.4 C297.2,280.8 292.4,282.9 287.5,285.2 C282.6,287.5 277.4,290.2 272.7,292.0 C268.0,293.8 261.4,295.3 259.1,296.0" fill="none" stroke="#121c24" stroke-width="1.8" stroke-linecap="round" stroke-linejoin="round"/>
<path d="M356.6,238.3 C355.7,239.3 353.2,241.9 350.9,244.5 C348.6,247.1 345.5,250.8 343.0,253.6 C340.5,256.4 338.3,258.9 336.1,261.6 C333.9,264.3 333.8,267.2 330.0,270.0 C326.2,272.8 319.0,275.9 313.6,278.4 C308.2,280.9 302.6,282.9 297.7,285.2 C292.8,287.5 289.1,289.7 284.0,292.0 C278.9,294.3 269.8,297.8 267.0,298.9" fill="none" stroke="#121c24" stroke-width="1.8" stroke-linecap="round" stroke-linejoin="round"/>
<path d="M259.1,296.0 L263.0,289.2 L252.3,301.7 L273.0,302.0 L267.0,298.9" fill="none" stroke="#121c24" stroke-width="1.8" stroke-linecap="round" stroke-linejoin="round"/>
<path d="M379.3,235.5 C378.4,236.2 375.9,237.7 373.6,240.0 C371.3,242.3 368.3,246.1 365.7,249.1 C363.1,252.1 360.6,255.3 358.0,258.0 C355.4,260.7 353.8,262.5 350.0,265.5 C346.2,268.5 339.6,273.1 335.0,276.0 C330.4,278.9 327.4,280.3 322.7,283.0 C318.0,285.7 311.7,289.3 306.8,292.0 C301.9,294.7 298.9,296.4 293.2,299.0 C287.5,301.6 276.2,306.3 272.8,307.8" fill="none" stroke="#121c24" stroke-width="1.8" stroke-linecap="round" stroke-linejoin="round"/>
<path d="M412.5,223.8 C409.6,226.0 400.4,233.1 395.0,237.5 C389.6,241.9 386.2,244.9 380.0,250.0 C373.8,255.1 364.2,262.7 357.5,268.0 C350.8,273.3 344.6,279.0 340.0,282.0 C335.4,285.0 334.4,283.9 330.0,286.0 C325.6,288.1 318.6,291.6 313.6,294.3 C308.6,297.0 305.5,299.3 300.0,302.0 C294.5,304.7 283.9,309.2 280.7,310.7" fill="none" stroke="#121c24" stroke-width="1.8" stroke-linecap="round" stroke-linejoin="round"/>
<path d="M272.8,307.8 L276.7,301.0 L266,313.5 L286.7,313.8 L280.7,310.7" fill="none" stroke="#121c24" stroke-width="1.8" stroke-linecap="round" stroke-linejoin="round"/>
<path d="M420.0,232.0 C416.7,234.3 407.5,240.5 400.0,246.0 C392.5,251.5 381.2,259.3 375.0,265.0 C368.8,270.7 367.5,275.8 362.5,280.0 C357.5,284.2 351.7,286.7 345.0,290.0 C338.3,293.3 328.9,296.7 322.5,300.0 C316.1,303.3 312.3,307.0 306.8,310.0 C301.3,313.0 292.2,316.7 289.3,318.0" fill="none" stroke="#121c24" stroke-width="1.8" stroke-linecap="round" stroke-linejoin="round"/>
<path d="M410.0,248.0 C405.8,250.3 391.7,257.9 385.0,262.0 C378.3,266.1 374.6,268.7 370.0,272.5 C365.4,276.3 362.5,281.2 357.5,285.0 C352.5,288.8 345.4,291.2 340.0,295.0 C334.6,298.8 332.1,303.2 325.0,307.5 C317.9,311.8 301.8,318.8 297.2,321.0" fill="none" stroke="#121c24" stroke-width="1.8" stroke-linecap="round" stroke-linejoin="round"/>
<path d="M289.3,318.1 L293.2,311.2 L282.5,323.75 L303.2,324.05 L297.2,320.95" fill="none" stroke="#121c24" stroke-width="1.8" stroke-linecap="round" stroke-linejoin="round"/>
<path d="M313.0,183.2 L328.9,179.2" fill="none" stroke="#121c24" stroke-width="1.6" stroke-linecap="round" stroke-linejoin="round"/>
<path d="M314.0,186.6 L321.0,184.3" fill="none" stroke="#121c24" stroke-width="1.6" stroke-linecap="round" stroke-linejoin="round"/>
<path d="M319.0,189.4 L323.0,187.7" fill="none" stroke="#121c24" stroke-width="1.6" stroke-linecap="round" stroke-linejoin="round"/>
<path d="M327.0,195.7 L330.0,188.9" fill="none" stroke="#121c24" stroke-width="1.6" stroke-linecap="round" stroke-linejoin="round"/>
<path d="M335.7,195.1 L334.5,189.4" fill="none" stroke="#121c24" stroke-width="1.6" stroke-linecap="round" stroke-linejoin="round"/>
<path d="M346.0,198.0 L343.0,184.9" fill="none" stroke="#121c24" stroke-width="1.6" stroke-linecap="round" stroke-linejoin="round"/>
<path d="M336.8,178.0 L341.4,178.6" fill="none" stroke="#121c24" stroke-width="1.6" stroke-linecap="round" stroke-linejoin="round"/>
<path d="M358.4,203.0 C357.5,200.8 354.9,193.6 353.0,190.0 C351.1,186.4 348.0,182.9 347.0,181.5" fill="none" stroke="#121c24" stroke-width="1.6" stroke-linecap="round" stroke-linejoin="round"/>
<path d="M366.4,199.7 L358.4,189.4" fill="none" stroke="#121c24" stroke-width="1.6" stroke-linecap="round" stroke-linejoin="round"/>
<path d="M280.5,208.0 L299.3,199.7" fill="none" stroke="#121c24" stroke-width="1.6" stroke-linecap="round" stroke-linejoin="round"/>
<path d="M283.4,214.4 L302.7,201.4" fill="none" stroke="#121c24" stroke-width="1.6" stroke-linecap="round" stroke-linejoin="round"/>
<path d="M291.4,216.0 L299.3,211.6" fill="none" stroke="#121c24" stroke-width="1.6" stroke-linecap="round" stroke-linejoin="round"/>
<path d="M294.8,220.7 L303.9,215.0" fill="none" stroke="#121c24" stroke-width="1.6" stroke-linecap="round" stroke-linejoin="round"/>
<path d="M308.4,213.3 L313.0,210.5" fill="none" stroke="#121c24" stroke-width="1.6" stroke-linecap="round" stroke-linejoin="round"/>
<path d="M315.2,203.6 L318.6,201.4" fill="none" stroke="#121c24" stroke-width="1.6" stroke-linecap="round" stroke-linejoin="round"/>
<path d="M254.5,206.8 C257.4,206.0 265.9,203.2 272.0,202.0 C278.1,200.8 287.8,199.8 291.0,199.4" fill="none" stroke="#121c24" stroke-width="1.6" stroke-linecap="round" stroke-linejoin="round"/>
<path d="M269.3,211.4 L294.3,203.4" fill="none" stroke="#121c24" stroke-width="1.6" stroke-linecap="round" stroke-linejoin="round"/>
<path d="M284.0,213.6 L300.0,204.5" fill="none" stroke="#121c24" stroke-width="1.6" stroke-linecap="round" stroke-linejoin="round"/>
<path d="M291.0,216.0 L300.0,210.2" fill="none" stroke="#121c24" stroke-width="1.6" stroke-linecap="round" stroke-linejoin="round"/>
<path d="M412.5,230.6 L425.0,219.2" fill="none" stroke="#121c24" stroke-width="1.6" stroke-linecap="round" stroke-linejoin="round"/>
<path d="M421.6,228.3 L430.7,218.6" fill="none" stroke="#121c24" stroke-width="1.6" stroke-linecap="round" stroke-linejoin="round"/>
<path d="M430.7,232.3 L435.2,220.3" fill="none" stroke="#121c24" stroke-width="1.6" stroke-linecap="round" stroke-linejoin="round"/>
<path d="M437.5,234.5 L439.2,222.6" fill="none" stroke="#121c24" stroke-width="1.6" stroke-linecap="round" stroke-linejoin="round"/>
<path d="M448.9,237.4 L445.5,222.6" fill="none" stroke="#121c24" stroke-width="1.6" stroke-linecap="round" stroke-linejoin="round"/>
<path d="M458.5,240.8 L452.3,226.6" fill="none" stroke="#121c24" stroke-width="1.6" stroke-linecap="round" stroke-linejoin="round"/>
<path d="M465.9,240.2 L461.4,231.1" fill="none" stroke="#121c24" stroke-width="1.6" stroke-linecap="round" stroke-linejoin="round"/>
<path d="M385.2,250.1 C387.2,249.1 393.9,246.4 397.5,243.9 C401.1,241.4 405.3,236.4 406.9,234.9" fill="none" stroke="#121c24" stroke-width="1.6" stroke-linecap="round" stroke-linejoin="round"/>
<path d="M386.1,254.8 C388.2,253.8 394.8,250.9 398.4,248.7 C401.9,246.5 405.9,242.8 407.4,241.6" fill="none" stroke="#121c24" stroke-width="1.6" stroke-linecap="round" stroke-linejoin="round"/>
<path d="M406.9,252.0 L417.3,242.5" fill="none" stroke="#121c24" stroke-width="1.6" stroke-linecap="round" stroke-linejoin="round"/>
<path d="M418.8,253.4 L424.9,245.4" fill="none" stroke="#121c24" stroke-width="1.6" stroke-linecap="round" stroke-linejoin="round"/>
<path d="M432.5,257.2 L434.9,252.9" fill="none" stroke="#121c24" stroke-width="1.6" stroke-linecap="round" stroke-linejoin="round"/>
<path d="M373.8,268.1 C376.0,267.1 383.2,264.3 387.0,261.9 C390.8,259.5 394.9,255.2 396.5,253.9" fill="none" stroke="#121c24" stroke-width="1.6" stroke-linecap="round" stroke-linejoin="round"/>
<path d="M379.5,274.2 C381.9,272.9 389.8,269.8 393.7,266.7 C397.6,263.6 401.5,257.6 403.1,255.8" fill="none" stroke="#121c24" stroke-width="1.6" stroke-linecap="round" stroke-linejoin="round"/>
<path d="M391.8,271.4 L407.9,260.0" fill="none" stroke="#121c24" stroke-width="1.6" stroke-linecap="round" stroke-linejoin="round"/>
<path d="M403.1,271.4 L409.8,266.7" fill="none" stroke="#121c24" stroke-width="1.6" stroke-linecap="round" stroke-linejoin="round"/>
<path d="M416.4,271.9 L419.2,269.5" fill="none" stroke="#121c24" stroke-width="1.6" stroke-linecap="round" stroke-linejoin="round"/>
<path d="M370.0,258.0 L379.5,252.5" fill="none" stroke="#121c24" stroke-width="1.6" stroke-linecap="round" stroke-linejoin="round"/>
<path d="M370.0,264.8 L378.5,259.0" fill="none" stroke="#121c24" stroke-width="1.6" stroke-linecap="round" stroke-linejoin="round"/>
<path d="M476.2,339.0 L478.0,344.0" fill="none" stroke="#121c24" stroke-width="1.6" stroke-linecap="round" stroke-linejoin="round"/>
<path d="M485.3,336.7 L488.2,343.5" fill="none" stroke="#121c24" stroke-width="1.6" stroke-linecap="round" stroke-linejoin="round"/>
<path d="M499.0,331.6 L502.4,343.0" fill="none" stroke="#121c24" stroke-width="1.6" stroke-linecap="round" stroke-linejoin="round"/>
<path d="M507.0,327.6 L513.2,339.0" fill="none" stroke="#121c24" stroke-width="1.6" stroke-linecap="round" stroke-linejoin="round"/>
<path d="M514.3,323.0 L526.8,344.0" fill="none" stroke="#121c24" stroke-width="1.6" stroke-linecap="round" stroke-linejoin="round"/>
<path d="M521.7,316.8 L536.5,338.4" fill="none" stroke="#121c24" stroke-width="1.6" stroke-linecap="round" stroke-linejoin="round"/>
<path d="M528.5,315.1 L542.7,331.6" fill="none" stroke="#121c24" stroke-width="1.6" stroke-linecap="round" stroke-linejoin="round"/>
<path d="M530.2,309.4 L551.8,328.2" fill="none" stroke="#121c24" stroke-width="1.6" stroke-linecap="round" stroke-linejoin="round"/>
<g>
<text transform="translate(76,84) scale(1,1.07)" text-anchor="middle" font-size="17.3">Slope</text>
<text transform="translate(76,103.4) scale(1,1.07)" text-anchor="middle" font-size="17.3">water</text>
<text transform="translate(76,122.7) scale(1,1.07)" text-anchor="middle" font-size="17.3">mass</text>
<text transform="translate(265,90) rotate(-4.9) scale(1,1.09)" font-size="29.5">Continental slope</text>
<text transform="translate(746,69.7) scale(1,1.07)" text-anchor="middle" font-size="17.4">Principal current as single broad</text>
<text transform="translate(746,90) scale(1,1.07)" text-anchor="middle" font-size="17.4">core deflected against slope</text>
<text transform="translate(746,108.3) scale(1,1.07)" text-anchor="middle" font-size="17.4">by Coriolis force</text>
<g style="fill:#1d2a46;stroke:#1d2a46;stroke-width:0.3px" font-size="11.9" text-anchor="middle">
<text transform="translate(718,147.4) scale(1,1.07)">Mean flow along-slope,</text>
<text transform="translate(717,164.5) scale(1,1.07)">variability due to meandering,</text>
<text transform="translate(712,180.8) scale(1,1.07)">eddies, internal tides, benthic</text>
<text transform="translate(713,197) scale(1,1.07)">storms &amp; local topography</text>
</g>
<text transform="translate(493,208) scale(1,1.07)" font-size="17.2">Flow</text>
<text transform="translate(493,226) scale(1,1.07)" font-size="17.2">lofting</text>
<text transform="translate(806,227) scale(1,1.07)" font-size="17.1">Eddies</text>
<text transform="translate(806,245.3) scale(1,1.07)" font-size="17.1">flow marginal</text>
<text transform="translate(10,261.9) scale(1,1.07)" font-size="17.3">Current divides</text>
<text transform="translate(10,280.6) scale(1,1.07)" font-size="17.3">into multiple cores</text>
<text transform="translate(10,300.4) scale(1,1.07)" font-size="17.3">as a result of</text>
<text transform="translate(10,320.2) scale(1,1.07)" font-size="17.3">topographic interaction</text>
<text transform="translate(241,330.6) scale(1,1.07)" text-anchor="middle" font-size="17.3">hydraulic</text>
<text transform="translate(239,349) scale(1,1.07)" text-anchor="middle" font-size="17.3">jump effect</text>
<text transform="translate(558.5,362.5) scale(1,1.07)" text-anchor="middle" font-size="17.4">Partial</text>
<text transform="translate(558.5,381.9) scale(1,1.07)" text-anchor="middle" font-size="17.4">topographic</text>
<text transform="translate(558.5,401.2) scale(1,1.07)" text-anchor="middle" font-size="17.4">barrier</text>
<text transform="translate(700,391) rotate(-14.2) scale(1,1.07)" font-size="17.2">Deep water mass</text>
<text transform="translate(716,474.4) rotate(-14.5) scale(1,1.07)" font-size="17.25">Bottom-water wass</text>
</g>
</svg>
</body></html>
